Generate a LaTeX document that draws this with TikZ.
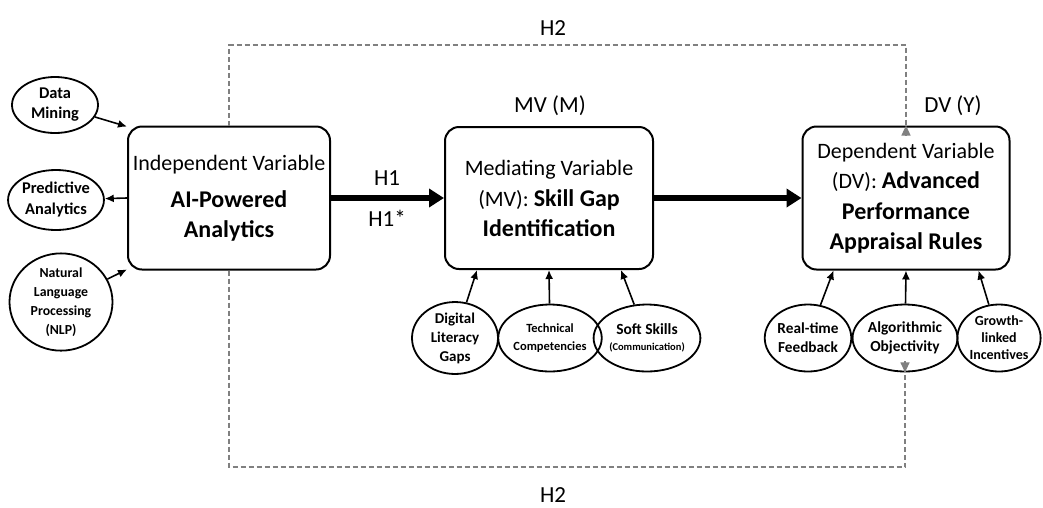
\documentclass[tikz,border=0pt]{standalone}
\usepackage{fontspec}
\setmainfont{Carlito}
\usetikzlibrary{shapes.geometric,arrows.meta}
\newcommand{\fs}[2]{\fontsize{#1}{#2}\selectfont}
\begin{document}
\begin{tikzpicture}[x=1pt,y=-1pt,
    varbox/.style={draw,line width=2pt,rounded corners=14pt,fill=white,align=flush center,inner sep=2pt,font=\fs{22}{30}},
    factor/.style={draw,ellipse,line width=1.8pt,inner sep=0pt,align=center,minimum height=67pt},
    link/.style={line width=1.6pt,-{Latex[length=9pt,width=8pt]}},
    mainlink/.style={line width=5.5pt,-{Triangle[length=15pt,width=18pt]}},
    hyp/.style={gray,line width=1.2pt,dash pattern=on 5pt off 3pt},
    hyptip/.style={gray,line width=1.2pt,-{Triangle[length=10pt,width=9pt]}},
    tag/.style={font=\fs{23}{26}}]
  \useasboundingbox (0,0) rectangle (1043,507);
  % H2 frame corners
  \coordinate (h2tl) at (229,45);
  \coordinate (h2bl) at (229,467);
  % main variables
  \node[varbox,minimum width=202pt,minimum height=143pt,text width=198pt] (ia) at (229,198)
    {Independent Variable\\[7pt]\fs{24}{30}\bfseries AI-Powered\\Analytics};
  \node[varbox,minimum width=208pt,minimum height=142pt,text width=204pt] (mv) at (549,198)
    {Mediating Variable\\(MV): \fs{24}{31}\bfseries Skill Gap\\Identification};
  \node[varbox,minimum width=207pt,minimum height=143pt,text width=203pt] (dv) at (906,198)
    {Dependent Variable\\(DV): \fs{24}{30.5}\bfseries Advanced\\Performance\\Appraisal Rules};
  \node[tag] (h2top) at (553,28) {H2};
  \node[tag] (h2bot) at (553,495) {H2};
  \node[tag] (mvtag) at (550,106) {MV (M)};
  \node[tag] (dvtag) at (953,106) {DV (Y)};
  % left factors
  \node[factor,minimum width=86pt,minimum height=56pt,font=\fs{16.4}{20}\bfseries] (dm) at (55,105) {Data\\Mining};
  \node[factor,minimum width=88pt,minimum height=60pt,font=\fs{16.4}{21}\bfseries] (pa) at (56,200) {Predictive\\Analytics};
  \node[factor,minimum width=103pt,minimum height=83pt,font=\fs{13.8}{19}\bfseries] (nlp) at (61,302) {Natural\\Language\\Processing\\(NLP)};
  % mediator factors
  \node[factor,minimum width=86pt,font=\fs{15}{19}\bfseries] (dl) at (455,338) {Digital\\Literacy\\Gaps};
  \node[factor,minimum width=86pt,font=\fs{12.5}{18}\bfseries] (tc) at (550,338) {Technical\\Competencies};
  \node[factor,minimum width=87pt,font=\fs{15.5}{16}\bfseries] (ss) at (647,338) {Soft Skills\\\fs{10.5}{16}(Communication)};
  % dependent factors
  \node[factor,minimum width=83pt,font=\fs{15.3}{19}\bfseries] (rt) at (808,338) {Real-time\\Feedback};
  \node[factor,minimum width=90pt,font=\fs{15.4}{19}\bfseries] (ao) at (905,338) {Algorithmic\\Objectivity};
  \node[factor,minimum width=82pt,font=\fs{14}{17}\bfseries] (gi) at (999,338) {Growth-\\linked\\Incentives};
  \coordinate (h2br) at (ao.south |- h2bl);
  % H2 links
  \draw[hyp] (ia.north -| h2tl) -- (h2tl) -- (dv.north |- h2tl) -- ([yshift=-9pt]dv.north);
  \draw[hyptip] ([yshift=-10pt]dv.north) -- (dv.north);
  \draw[hyp] (ia.south -| h2tl) -- (h2bl) -- (h2br) -- ([yshift=10pt]ao.south);
  \draw[hyptip] ([yshift=11pt]ao.south) -- (ao.south);
  % connectors
  \draw[link] (dm) -- (ia.145);
  \draw[link] (ia.west) -- (pa);
  \draw[link] (nlp) -- (ia.215);
  \draw[mainlink] (ia.east) -- (mv.west);
  \draw[mainlink] (mv.east) -- (dv.west);
  \node[tag] (h1) at (387,178) {H1};
  \node[tag] (h1s) at (387,218) {H1*};
  \draw[link] (dl) -- (mv.225);
  \draw[link] (tc) -- (mv.south);
  \draw[link] (ss) -- (mv.315);
  \draw[link] (rt) -- (dv.225);
  \draw[link] (ao) -- (dv.south);
  \draw[link] (gi) -- (dv.315);
\end{tikzpicture}
\end{document}
